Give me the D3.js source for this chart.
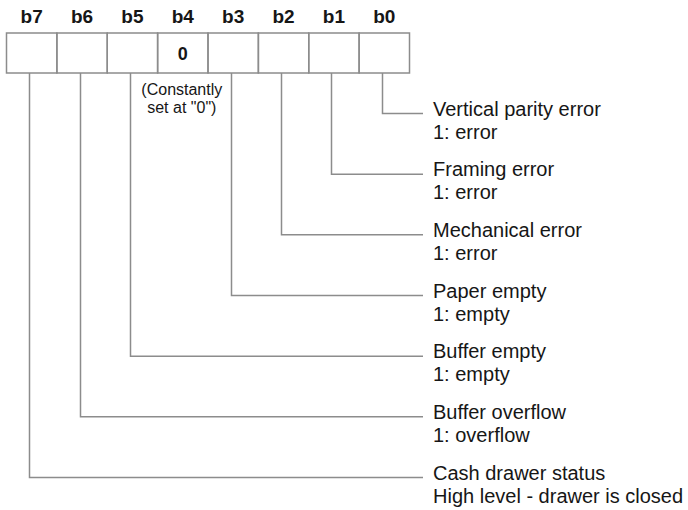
<!DOCTYPE html>
<html>
<head>
<meta charset="utf-8">
<script src="https://cdn.jsdelivr.net/npm/d3@7"></script>
<style>
  body { margin: 0; background: #fff; }
  text { font-family: "Liberation Sans", Arial, Helvetica, sans-serif; fill: #161616; }
</style>
</head>
<body>
<div id="chart"></div>
<script>
// bit names, left to right as drawn
var bits = ["b7", "b6", "b5", "b4", "b3", "b2", "b1", "b0"];
// what is printed inside each bit cell
var cellValues = ["", "", "", "0", "", "", "", ""];
// note under the fixed bit
var fixedBit = "b4";
var fixedNote = ["(Constantly", "set at \"0\")"];

// descriptions, top to bottom
var describedBits = ["b0", "b1", "b2", "b3", "b5", "b6", "b7"];
var titles = ["Vertical parity error", "Framing error", "Mechanical error", "Paper empty",
              "Buffer empty", "Buffer overflow", "Cash drawer status"];
var meanings = ["1: error", "1: error", "1: error", "1: empty",
                "1: empty", "1: overflow", "High level - drawer is closed"];

var w = 688;
var h = 510;
var lineColor = "#8c8c8c";
var boxTop = 33, boxBottom = 73;

var svg = d3.select("#chart").append("svg")
            .attr("width", w)
            .attr("height", h);

var x = d3.scaleBand().domain(bits).range([6.5, 409.5]);
var y = d3.scalePoint().domain(describedBits).range([113.5, 477.5]);

// where each leader line leaves its cell
var leadX = function(b) { return Math.round(x(b) + x.bandwidth() / 2 - 2.5) + 0.5; };

// header labels
svg.selectAll("text.bit")
    .data(bits)
    .enter()
    .append("text")
    .attr("class", "bit")
    .attr("x", (d) => x(d) + x.bandwidth() / 2)
    .attr("y", 23)
    .attr("text-anchor", "middle")
    .attr("font-size", 19)
    .attr("font-weight", "bold")
    .text((d) => d);

// cells
svg.selectAll("rect.cell")
    .data(bits)
    .enter()
    .append("rect")
    .attr("class", "cell")
    .attr("x", (d) => x(d))
    .attr("y", boxTop)
    .attr("width", x.bandwidth())
    .attr("height", boxBottom - boxTop)
    .attr("fill", "none")
    .attr("stroke", lineColor)
    .attr("stroke-width", 1.5);

svg.selectAll("text.val")
    .data(bits)
    .enter()
    .append("text")
    .attr("class", "val")
    .attr("x", (d) => x(d) + x.bandwidth() / 2)
    .attr("y", 60)
    .attr("text-anchor", "middle")
    .attr("font-size", 18)
    .attr("font-weight", "bold")
    .text((d, i) => cellValues[i]);

// note under b4
svg.selectAll("text.note")
    .data(fixedNote)
    .enter()
    .append("text")
    .attr("class", "note")
    .attr("x", x(fixedBit) + x.bandwidth() / 2 - 1)
    .attr("y", (d, i) => 95 + i * 18)
    .attr("text-anchor", "middle")
    .attr("font-size", 16)
    .text((d) => d);

// leader lines
svg.selectAll("path.lead")
    .data(describedBits)
    .enter()
    .append("path")
    .attr("class", "lead")
    .attr("d", (d) => "M" + leadX(d) + "," + boxBottom + "V" + y(d) + "H423")
    .attr("fill", "none")
    .attr("stroke", lineColor)
    .attr("stroke-width", 1.5);

// descriptions
svg.selectAll("text.title")
    .data(describedBits)
    .enter()
    .append("text")
    .attr("class", "title")
    .attr("x", 433)
    .attr("y", (d) => y(d) + 2)
    .attr("font-size", 20)
    .text((d, i) => titles[i]);

svg.selectAll("text.meaning")
    .data(describedBits)
    .enter()
    .append("text")
    .attr("class", "meaning")
    .attr("x", 433)
    .attr("y", (d) => y(d) + 25)
    .attr("font-size", 20)
    .text((d, i) => meanings[i]);
</script>
</body>
</html>
